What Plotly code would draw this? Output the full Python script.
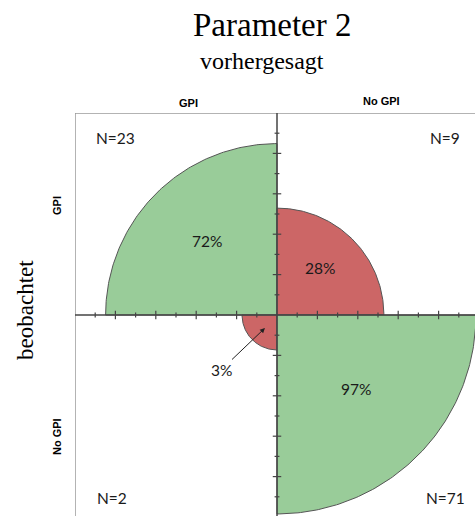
import numpy as np
import plotly.graph_objects as go

# ---------------- data ----------------
col_labels = ["GPI", "No GPI"]          # vorhergesagt
row_labels = ["GPI", "No GPI"]          # beobachtet
quad_names = ["GPI/GPI", "GPI/No GPI", "No GPI/GPI", "No GPI/No GPI"]
counts = [23, 9, 2, 71]
percents = [72, 28, 3, 97]
quad_colors = ["#99CC99", "#CC6666", "#CC6666", "#99CC99"]
tick_values = [0.1, 0.2, 0.3, 0.4, 0.5, 0.6, 0.7, 0.8, 0.9]

# ---------------- geometry helpers ----------------
W, H = 475, 516
ML, MT = 75, 113
CX, CY, S = 277.0, 315.0, 202.0   # pixel centre and pixels per unit
PW, PH = W - ML, H - MT


def d(px, py):
    """pixel -> data coords"""
    return (px - CX) / S, (CY - py) / S


def p(px, py):
    """pixel -> paper coords"""
    return (px - ML) / PW, (H - py) / PH


quad_angles = [(90, 180), (0, 90), (180, 270), (270, 360)]

fig = go.Figure()

for name, pct, col, (a0, a1) in zip(quad_names, percents, quad_colors, quad_angles):
    r = np.sqrt(pct / 100.0)
    th = np.radians(np.linspace(a0, a1, 120))
    xs = np.concatenate([[0], r * np.cos(th), [0]])
    ys = np.concatenate([[0], r * np.sin(th), [0]])
    fig.add_trace(go.Scatter(x=xs, y=ys, mode="lines", fill="toself", fillcolor=col,
                             line=dict(color="#555555", width=1), hoverinfo="skip",
                             name=name, showlegend=False))

# frame
fig.add_shape(type="rect", x0=-1, x1=1, y0=-1, y1=1, xref="x", yref="y",
              line=dict(color="#9a9a9a", width=1.5), layer="above")
# centre axes
fig.add_shape(type="line", x0=-1, x1=1, y0=0, y1=0, line=dict(color="#444444", width=1.5), layer="above")
fig.add_shape(type="line", x0=0, x1=0, y0=-1, y1=1, line=dict(color="#444444", width=1.5), layer="above")

# tick marks along both axes
tx, ty = [], []
for i, v in enumerate(tick_values):
    L = 0.021 if (i % 2 == 1) else 0.012
    for s in (-1, 1):
        tx += [s * v, s * v, None]
        ty += [-L, L, None]
        tx += [-L, L, None]
        ty += [s * v, s * v, None]
fig.add_trace(go.Scatter(x=tx, y=ty, mode="lines", line=dict(color="#444444", width=1.2),
                         hoverinfo="skip", showlegend=False))

ann = []
sans = "Lato, Liberation Sans, sans-serif"
serif = "Liberation Serif, Times New Roman, serif"


def add_text(px, py, text, font, **kw):
    x, y = p(px, py)
    ann.append(dict(x=x, y=y, xref="paper", yref="paper", text=text, font=font,
                    showarrow=False, xanchor="center", yanchor="middle", **kw))


# title and axis titles
add_text(272, 25, "Parameter 2", dict(family=serif, size=33, color="black"))
add_text(262, 61, "vorhergesagt", dict(family=serif, size=24, color="black"))
add_text(25, 310, "beobachtet", dict(family=serif, size=23, color="black"), textangle=-90)

# column / row headers
hdr_font = dict(family="Liberation Sans, Arial", size=11, color="black")
for lab, (px, py) in zip(col_labels, [(188, 103), (381, 101)]):
    add_text(px, py, f"<b>{lab}</b>", hdr_font)
for lab, (px, py) in zip(row_labels, [(57, 206), (57, 437)]):
    add_text(px, py, f"<b>{lab}</b>", hdr_font, textangle=-90)

# N labels
lab_font = dict(family=sans, size=15.5, color="#1a1a1a")
for n, (px, py) in zip(counts, [(115, 138), (445, 138), (112, 498), (445, 498)]):
    add_text(px, py, f"N={n}", lab_font)

# percent labels (large quadrants)
label_pos = {0: (207, 241), 1: (320, 268), 3: (356, 389)}
for i, (px, py) in label_pos.items():
    add_text(px, py, f"{percents[i]}%", lab_font)

# small quadrant label with arrow
hx, hy = d(265, 328)
ann.append(dict(x=hx, y=hy, xref="x", yref="y", text=f"{percents[2]}%", showarrow=True,
                ax=221 - 265, ay=370 - 328,
                arrowhead=2, arrowsize=1, arrowwidth=1, arrowcolor="#222222", font=lab_font))

fig.update_layout(
    width=W, height=H,
    margin=dict(l=ML, r=0, t=MT, b=0),
    paper_bgcolor="white", plot_bgcolor="white",
    xaxis=dict(range=[-1, (W - CX) / S], visible=False, showgrid=False, zeroline=False, fixedrange=True),
    yaxis=dict(range=[-(H - CY) / S, 1], visible=False, showgrid=False, zeroline=False, fixedrange=True),
    annotations=ann,
    showlegend=False,
)

fig.write_html(
    "out.html",
    config={"displayModeBar": False},
    post_script="document.body.style.margin='0';document.body.style.padding='0';"
                "document.body.style.overflow='hidden';"
                "document.documentElement.style.overflow='hidden';",
)
